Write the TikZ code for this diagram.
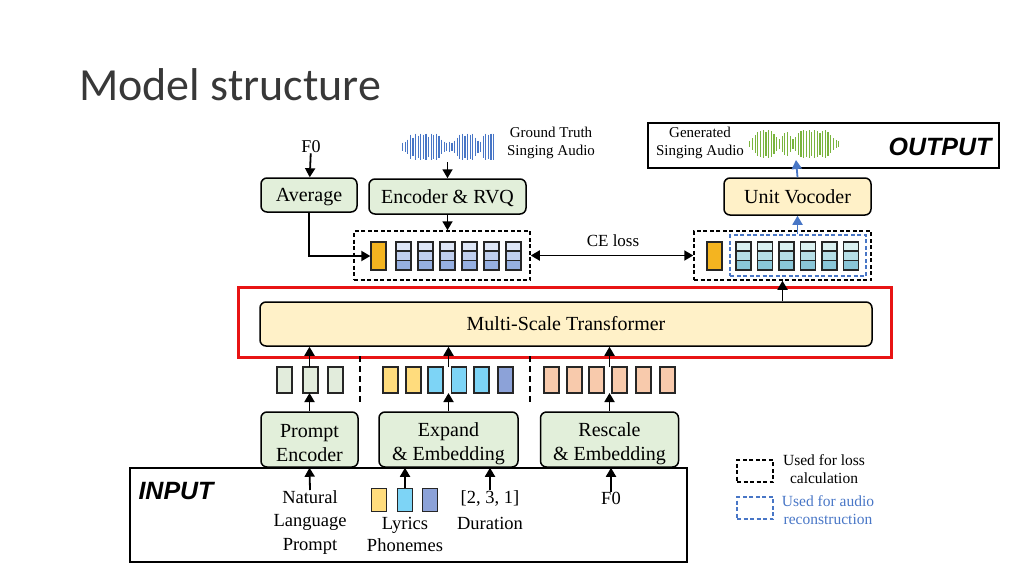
\documentclass[tikz,border=0pt]{standalone}
\usepackage{fontspec}
\setmainfont{Liberation Serif}
\newfontfamily\titlefont{Carlito}
\newfontfamily\tagfont{Liberation Sans}
\usetikzlibrary{arrows.meta,calc}
\definecolor{boxgreen}{RGB}{226,239,218}
\definecolor{boxyellow}{RGB}{255,241,200}
\definecolor{tokorange}{RGB}{244,180,32}
\definecolor{bluea}{RGB}{222,230,246}
\definecolor{blueb}{RGB}{192,207,238}
\definecolor{bluec}{RGB}{150,176,226}
\definecolor{teala}{RGB}{218,240,240}
\definecolor{tealb}{RGB}{182,222,230}
\definecolor{tealc}{RGB}{138,198,216}
\definecolor{tokgreen}{RGB}{226,236,220}
\definecolor{tokyellow}{RGB}{255,220,125}
\definecolor{tokcyan}{RGB}{125,212,246}
\definecolor{tokpurple}{RGB}{140,162,216}
\definecolor{tokpeach}{RGB}{248,202,172}
\definecolor{myred}{RGB}{232,20,20}
\definecolor{myblue}{RGB}{72,118,198}
\definecolor{wavegreen}{RGB}{122,180,62}
\definecolor{titlegray}{RGB}{56,56,56}
\begin{document}
\begin{tikzpicture}[x=1pt,y=-1pt,
  modbox/.style={draw=black, line width=1.5, rounded corners=6, inner sep=0, align=center,
     font=\fontsize{20}{24}\selectfont},
  oneline/.style={text height=14pt, text depth=1pt},
  greenbox/.style={modbox, fill=boxgreen},
  yellowbox/.style={modbox, fill=boxyellow},
  twoline/.style={label={[txt, font=\fontsize{20}{24}\selectfont, yshift=-4pt]center:{#1}}},
  tip/.tip={Triangle[length=9pt,width=10pt]},
  arr/.style={line width=1.8, -tip},
  barr/.style={line width=1.8, myblue, -tip},
  lossbox/.style={draw=black, line width=1.5, dash pattern=on 4 off 2.5, inner sep=0},
  recbox/.style={draw=myblue, line width=1.5, dash pattern=on 4 off 2.5, inner sep=0},
  tokbox/.style={draw=black!85, line width=1.3, inner sep=0, minimum width=15, minimum height=26},
  sep/.style={line width=2, dash pattern=on 6 off 4},
  txt/.style={inner sep=0, align=center},
  wave/.style={line width=1.2}
]
\useasboundingbox (0,0) rectangle (1024,576);

% title
\node[anchor=base west, inner sep=0, text=titlegray, font=\titlefont\fontsize{46}{50}\selectfont] (title) at (79,100) {Model structure};

% output box
\node[draw=black, line width=2.5, inner sep=0, minimum width=351, minimum height=45] (outbox) at (823.5,145.5) {};
\node[txt, font=\fontsize{15}{17.5}\selectfont] (gentxt) at (700,143) {Generated\\Singing Audio};
\node[txt, font=\tagfont\bfseries\itshape\fontsize{25}{28}\selectfont] (outlbl) at (940,147) {OUTPUT};
\foreach \h [count=\i] in {3,6,9,12,13,14,12,14,13,10,7,5,8,11,12,8,5,7,11,13,14,13,14,12,14,13,11,13,14,12,9,6,4,3}
  \draw[wave, wavegreen] (747+2.7*\i,144-\h) -- (747+2.7*\i,144+\h);
\coordinate (genwave) at (796,160);

% ground truth
\foreach \h [count=\i] in {4,5,7,12,9,13,11,13,12,13,10,13,12,13,11,7,5,4,5,4,6,9,12,13,11,13,12,13,9,6,5,11,13,12,13,13}
  \draw[wave, myblue] (400+2.6*\i,146.5-\h) -- (400+2.6*\i,146.5+\h);
\coordinate (gtwave) at (447.5,162);
\node[txt, font=\fontsize{15}{18}\selectfont] (gttxt) at (551,143) {Ground Truth\\Singing Audio};

% F0 top
\node[txt, font=\fontsize{18}{20}\selectfont] (f0top) at (311,147) {F0};

% boxes row 1
\node[greenbox, oneline, minimum width=96, minimum height=34] (avg) at (309,195) {Average};
\node[greenbox, oneline, minimum width=157, minimum height=35] (enc) at (447.5,196.5) {Encoder \& RVQ};
\node[yellowbox, oneline, minimum width=147, minimum height=37] (voc) at (797.5,196.5) {Unit Vocoder};

% dashed token boxes
\node[lossbox, minimum width=176, minimum height=49] (db1) at (442,255.5) {};
\node[lossbox, minimum width=177, minimum height=49] (db2) at (782.5,255.5) {};
\node[recbox, minimum width=136, minimum height=41] (rb) at (798,255.5) {};

\node[tokbox, fill=tokorange, minimum height=28] (orA) at (378.5,256) {};
\node[tokbox, fill=tokorange, minimum height=28] (orB) at (714.5,256) {};
\foreach \x in {396,418,440,462,484,506}{
  \fill[bluea] (\x,242) rectangle (\x+15,251);
  \fill[blueb] (\x,251) rectangle (\x+15,260.5);
  \fill[bluec] (\x,260.5) rectangle (\x+15,270);
  \draw[black!85, line width=1.3] (\x,242) rectangle (\x+15,270) (\x,251) -- (\x+15,251) (\x,260.5) -- (\x+15,260.5);
}
\foreach \x in {736,757.5,779,800.5,822,843.5}{
  \fill[teala] (\x,242) rectangle (\x+15,251);
  \fill[tealb] (\x,251) rectangle (\x+15,260.5);
  \fill[tealc] (\x,260.5) rectangle (\x+15,270);
  \draw[black!85, line width=1.3] (\x,242) rectangle (\x+15,270) (\x,251) -- (\x+15,251) (\x,260.5) -- (\x+15,260.5);
}
\node[txt, font=\fontsize{17}{19}\selectfont] (celbl) at (613,241) {CE loss};

% transformer
\node[draw=myred, line width=3, inner sep=0, minimum width=653, minimum height=70] (redbox) at (564.5,322) {};
\node[yellowbox, oneline, minimum width=612, minimum height=44] (tr) at (566,324) {Multi-Scale Transformer};

% token row
\coordinate (rowtop) at (0,367);
\coordinate (rowbot) at (0,393);
\foreach \x in {277,303,328}
  \draw[black!85, line width=1.3, fill=tokgreen] (\x,367) rectangle (\x+15,393);
\foreach \x/\c in {383/tokyellow,406/tokyellow,428/tokcyan,451.5/tokcyan,474/tokcyan,498/tokpurple}
  \draw[black!85, line width=1.3, fill=\c] (\x,367) rectangle (\x+15,393);
\foreach \x in {544,567,589,612,636,660}
  \draw[black!85, line width=1.3, fill=tokpeach] (\x,367) rectangle (\x+15,393);
\coordinate (s1a) at (360,356); \coordinate (s1b) at (360,403);
\coordinate (s2a) at (530,356); \coordinate (s2b) at (530,403);
\draw[sep] (s1a) -- (s1b);
\draw[sep] (s2a) -- (s2b);

% modules
\node[greenbox, minimum width=97, minimum height=55, twoline={Prompt\\Encoder}] (pe) at (309.5,439.5) {};
\node[greenbox, minimum width=139, minimum height=55, twoline={Expand\\\& Embedding}] (ee) at (448.5,439.5) {};
\node[greenbox, minimum width=138, minimum height=55, twoline={Rescale\\\& Embedding}] (re) at (609.5,439.5) {};

% input box
\node[draw=black, line width=2.5, inner sep=0, minimum width=557, minimum height=94] (inbox) at (408.5,515) {};
\node[txt, font=\tagfont\bfseries\itshape\fontsize{25}{28}\selectfont] (inlbl) at (176,491) {INPUT};
\node[txt, font=\fontsize{18.5}{23.5}\selectfont, anchor=north] (nlp) at (310,490) {Natural\\Language\\Prompt};
\node[tokbox, fill=tokyellow, minimum height=23] (ly1) at (379,500) {};
\node[tokbox, fill=tokcyan, minimum height=23] (ly2) at (405,500) {};
\node[tokbox, fill=tokpurple, minimum height=23] (ly3) at (430,500) {};
\node[txt, font=\fontsize{18.5}{22.5}\selectfont, anchor=north] (lyr) at (405,517) {Lyrics\\Phonemes};
\node[txt, font=\fontsize{18.5}{26}\selectfont, anchor=north] (dur) at (490,490) {[2, 3, 1]\\Duration};
\node[txt, font=\fontsize{18.5}{22}\selectfont, anchor=north] (f0bot) at (611,492) {F0};

% legend
\node[lossbox, minimum width=36, minimum height=22] (lg1) at (755,471) {};
\node[txt, font=\fontsize{15.5}{18.5}\selectfont] (lg1t) at (824,469) {Used for loss\\calculation};
\node[recbox, minimum width=36, minimum height=22] (lg2) at (755,508) {};
\node[txt, text=myblue, font=\fontsize{15.5}{18.5}\selectfont] (lg2t) at (828,510) {Used for audio\\reconstruction};

% connectors
\draw[arr] (f0top) -- (avg);
\draw[arr] (gtwave) -- (enc.north);
\draw[arr] (enc.south) -- (enc.south |- db1.north);
\draw[arr] (avg.south) |- (orA.west);
\draw[line width=1.8, tip-tip] (db1.east) -- (db2.west);
\draw[barr] (rb.north -| voc.south) -- (voc.south);
\draw[barr] (voc.north) -- (genwave);
\draw[arr] (tr.north -| db2.south) -- (db2.south);

\draw[arr] (pe.north) -- (pe.north |- rowbot);
\draw[arr] (pe.north |- rowtop) -- (pe.north |- tr.south);
\draw[arr] (ee.north) -- (ee.north |- rowbot);
\draw[arr] (ee.north |- rowtop) -- (ee.north |- tr.south);
\draw[arr] (re.north) -- (re.north |- rowbot);
\draw[arr] (re.north |- rowtop) -- (re.north |- tr.south);

\draw[arr] (nlp.north) -- (pe.south);
\draw[arr] (ly2.north) -- (ly2.north |- ee.south);
\draw[arr] (dur.north) -- (dur.north |- ee.south);
\draw[arr] (f0bot.north) -- (f0bot.north |- re.south);
\end{tikzpicture}
\end{document}
